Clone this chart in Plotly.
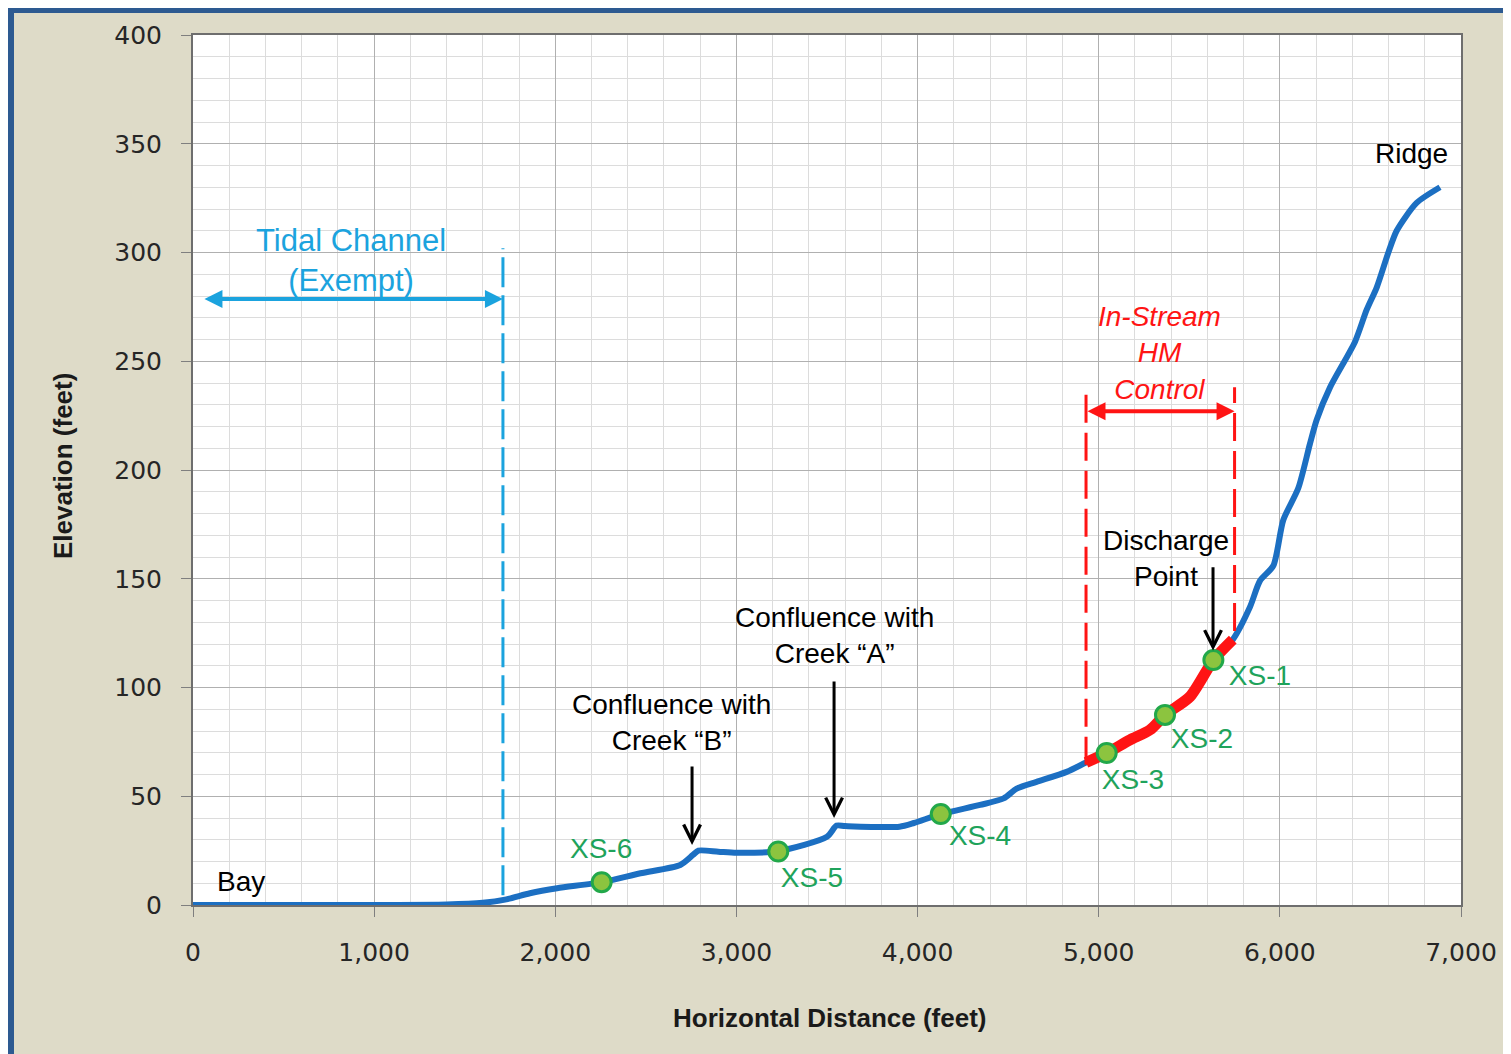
import plotly.graph_objects as go

# ---------------- data ----------------
distance_ft = [0, 500, 1000, 1400, 1600, 1730, 1860, 2010, 2256, 2470, 2690, 2760, 2790,
               2900, 3000, 3231, 3500, 3553, 3600, 3900, 3980, 4128, 4345, 4475, 4547,
               4657, 4823, 4930, 5044, 5173, 5283, 5366, 5504, 5633, 5740, 5835, 5890,
               5964, 6019, 6102, 6166, 6203, 6277, 6415, 6479, 6535, 6599, 6645, 6755, 6884]
elevation_ft = [0, 0, 0, 0.2, 1, 2.6, 5.4, 7.7, 10.5, 14.6, 18.4, 23, 25,
                24.5, 24, 24.8, 31.4, 36.5, 36.3, 36, 37.7, 41.8, 46, 49, 53.5,
                56.6, 61.2, 65.5, 69.9, 75.9, 80.5, 87.4, 95.8, 112.6, 122, 137, 149,
                156, 177, 191.7, 212, 223, 238, 259, 273.6, 284, 300, 310, 322.8, 330]

in_stream_range = [4930, 5750]          # In-Stream HM Control reach (ft)
tidal_limit = 1711                      # end of exempt tidal channel (ft)

xs_names = ["XS-1", "XS-2", "XS-3", "XS-4", "XS-5", "XS-6"]
xs_distance = [5633, 5366, 5044, 4128, 3231, 2256]
xs_elevation = [112.6, 87.4, 69.9, 41.8, 24.6, 10.5]
xs_label_x = [5890, 5570, 5189, 4345, 3417, 2253]
xs_label_y = [104.4, 75.4, 56.6, 30.8, 11.5, 24.8]

x_ticks = [0, 1000, 2000, 3000, 4000, 5000, 6000, 7000]
x_tick_text = ["0", "1,000", "2,000", "3,000", "4,000", "5,000", "6,000", "7,000"]
y_ticks = [0, 50, 100, 150, 200, 250, 300, 350, 400]

# ---------------- styles ----------------
BLUE = "#1C6FC2"
RED = "#FF1414"
CYAN = "#1BA3DE"
GREEN_TXT = "#1FA35B"
BEIGE = "#DEDBC8"
FRAME = "#2D5A91"
ANN_FONT = "Liberation Sans"

OFF = 8  # page body margin
W, H = 1503, 1046
L, T = 193 - OFF, 35 - OFF
R = W - (1461 - OFF)
B = H - (905 - OFF)
PW, PH = W - L - R, H - T - B


def px(x):  # page pixel -> paper fraction
    return (x - OFF - L) / PW


def py(y):
    return (H - B - (y - OFF)) / PH


fig = go.Figure()

fig.add_trace(go.Scatter(x=distance_ft, y=elevation_ft, mode="lines",
                         line=dict(color=BLUE, width=6, shape="spline", smoothing=0.7),
                         hoverinfo="skip", showlegend=False))

red_x = [d for d in distance_ft if in_stream_range[0] <= d <= in_stream_range[1]]
red_y = [e for d, e in zip(distance_ft, elevation_ft) if in_stream_range[0] <= d <= in_stream_range[1]]
fig.add_trace(go.Scatter(x=red_x, y=red_y, mode="lines",
                         line=dict(color=RED, width=11, shape="spline", smoothing=0.7),
                         hoverinfo="skip", showlegend=False))

fig.add_trace(go.Scatter(x=xs_distance, y=xs_elevation, mode="markers",
                         marker=dict(size=19, color="#8CC43F",
                                     line=dict(color="#22A84A", width=3)),
                         hoverinfo="skip", showlegend=False))

fig.add_trace(go.Scatter(x=xs_label_x, y=xs_label_y, mode="text", text=xs_names,
                         textfont=dict(family=ANN_FONT, size=28, color=GREEN_TXT),
                         textposition="middle center", hoverinfo="skip", showlegend=False))

shapes = []
# blue frame (left and top)
shapes.append(dict(type="rect", xref="paper", yref="paper", layer="below",
                   x0=px(8), x1=px(14), y0=py(1060), y1=py(8), fillcolor=FRAME, line_width=0))
shapes.append(dict(type="rect", xref="paper", yref="paper", layer="below",
                   x0=px(8), x1=px(1520), y0=py(13), y1=py(8), fillcolor=FRAME, line_width=0))
# dashed reference lines
shapes.append(dict(type="line", xref="x", yref="y", x0=tidal_limit, x1=tidal_limit,
                   y0=4.5, y1=302, line=dict(color=CYAN, width=3, dash="30px,8px")))
shapes.append(dict(type="line", xref="x", yref="y", x0=in_stream_range[0], x1=in_stream_range[0],
                   y0=64.5, y1=238, line=dict(color=RED, width=3, dash="28px,10px")))
shapes.append(dict(type="line", xref="x", yref="y", x0=in_stream_range[1], x1=in_stream_range[1],
                   y0=126, y1=238, line=dict(color=RED, width=3, dash="28px,10px")))

annotations = []


def text_ann(x, y, text, color="#000000", size=28, italic=False, family=ANN_FONT):
    annotations.append(dict(x=x, y=y, xref="x", yref="y", text=text, showarrow=False,
                            xanchor="center", yanchor="middle",
                            font=dict(family=family, size=size, color=color,
                                      style="italic" if italic else "normal")))


def arrow(x0, y0, x1, y1, color, width, head, size, both=False):
    annotations.append(dict(x=x1, y=y1, ax=x0, ay=y0, xref="x", yref="y", axref="x", ayref="y",
                            text="", showarrow=True, arrowhead=head, startarrowhead=head,
                            arrowsize=size, startarrowsize=size, arrowwidth=width,
                            arrowcolor=color, arrowside="end+start" if both else "end"))


text_ann(265, 11, "Bay")
text_ann(6724, 345.7, "Ridge")
text_ann(2644, 83.7, "Confluence with<br>Creek \u201cB\u201d")
text_ann(3539, 124, "Confluence with<br>Creek \u201cA\u201d")
text_ann(5371, 159.5, "Discharge<br>Point")
text_ann(872, 296.5, "Tidal Channel<br>(Exempt)", color=CYAN, size=31)
text_ann(5338, 254, "In-Stream<br>HM<br>Control", color=RED, size=28, italic=True)

arrow(2755, 64.4, 2755, 27.6, "#000000", 3, 5, 1.1)
arrow(3539, 103.4, 3539, 40, "#000000", 3, 5, 1.1)
arrow(5631, 156, 5631, 117, "#000000", 3, 5, 1.1)
arrow(55, 278.6, tidal_limit, 278.6, CYAN, 4, 2, 0.9, both=True)
arrow(in_stream_range[0], 227, in_stream_range[1], 227, RED, 4, 2, 0.9, both=True)

# axis titles
annotations.append(dict(x=px(830), y=py(1018), xref="paper", yref="paper",
                        text="<b>Horizontal Distance (feet)</b>", showarrow=False,
                        xanchor="center", yanchor="middle",
                        font=dict(family=ANN_FONT, size=26, color="#1a1a1a")))
annotations.append(dict(x=px(63), y=py(466), xref="paper", yref="paper",
                        text="<b>Elevation (feet)</b>", showarrow=False, textangle=-90,
                        xanchor="center", yanchor="middle",
                        font=dict(family=ANN_FONT, size=26, color="#1a1a1a")))

axis_common = dict(showline=True, linecolor="#6E6E6E", linewidth=2, mirror=True,
                   ticks="outside", ticklen=10, tickcolor="#7F7F7F", tickwidth=1,
                   gridcolor="#B0B0B0", gridwidth=1, zeroline=False, layer="below traces",
                   tickfont=dict(family="DejaVu Sans", size=25, color="#262626"))

fig.update_layout(
    width=W, height=H,
    margin=dict(l=L, r=R, t=T, b=B, pad=0),
    paper_bgcolor=BEIGE, plot_bgcolor="white",
    showlegend=False,
    xaxis=dict(range=[0, 7000], tickvals=x_ticks, ticktext=x_tick_text,
               minor=dict(dtick=200, showgrid=True, gridcolor="#DCDCDC", gridwidth=1),
               ticklabelstandoff=14, **axis_common),
    yaxis=dict(range=[0, 400], tickvals=y_ticks,
               minor=dict(dtick=10, showgrid=True, gridcolor="#DCDCDC", gridwidth=1),
               ticklabelstandoff=14, **axis_common),
    shapes=shapes,
    annotations=annotations,
)

fig.write_html("out.html")
